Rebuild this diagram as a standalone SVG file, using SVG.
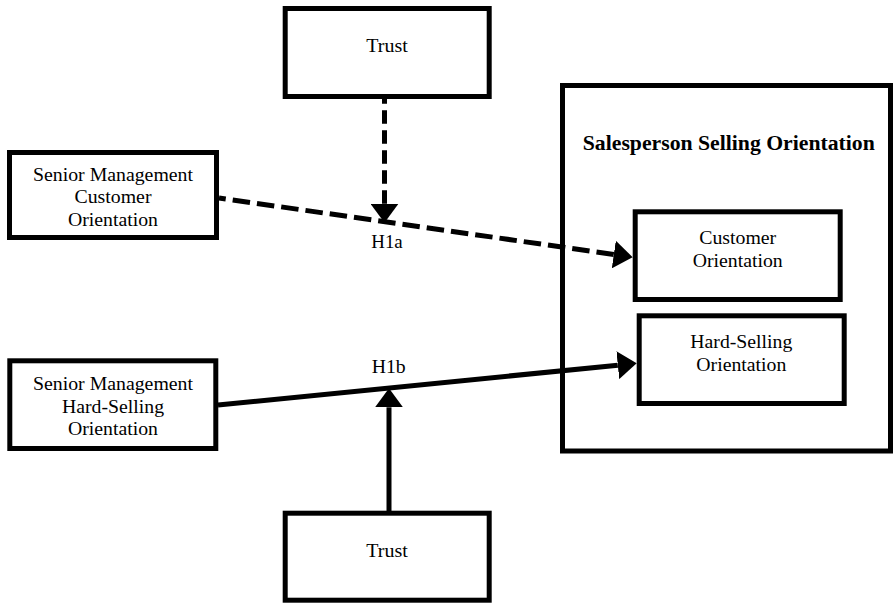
<svg xmlns="http://www.w3.org/2000/svg" width="894" height="603" viewBox="0 0 894 603">
<style>
  .box { fill: #ffffff; stroke: #000000; stroke-width: 5; }
  .frame { fill: none; stroke: #000000; stroke-width: 5; }
  .t { font-family: "Liberation Serif", "Times New Roman", serif; font-size: 18.5px; fill: #000000; text-anchor: middle; }
  .title { font-family: "Liberation Serif", "Times New Roman", serif; font-size: 20px; font-weight: bold; fill: #000000; text-anchor: middle; }
  .conn { fill: none; stroke: #000000; stroke-width: 5; }
  .dashv { stroke-dasharray: 13.5 6.5; }
  .dashd { stroke-dasharray: 17.5 7; }
</style>
<defs>
  <marker id="arrow" markerUnits="userSpaceOnUse" markerWidth="19" markerHeight="28" viewBox="0 0 19 28" refX="0" refY="14" orient="auto-start-reverse">
    <path d="M0,0 L19,14 L0,28 Z" fill="#000000"/>
  </marker>
</defs>
<rect width="894" height="603" fill="#ffffff"/>

<g id="salesperson-orientation">
  <rect class="frame" x="562.5" y="85.5" width="328" height="365.5"/>
  <text class="title" x="728.8" y="150" textLength="292" lengthAdjust="spacingAndGlyphs">Salesperson Selling Orientation</text>
</g>

<g id="connectors">
  <path class="conn dashd" d="M613.8,254.5 L219,198" marker-start="url(#arrow)"/>
  <path class="conn dashv" d="M384.5,203.7 L384.5,99" marker-start="url(#arrow)"/>
  <path class="conn" d="M218,405 L617.8,365.2" marker-end="url(#arrow)"/>
  <path class="conn" d="M389,511 L389,407.3" marker-end="url(#arrow)"/>
</g>

<g id="trust-top">
  <rect class="box" x="285.2" y="8.5" width="204" height="88"/>
  <text class="t" x="387" y="52.3" textLength="41.5" lengthAdjust="spacingAndGlyphs">Trust</text>
</g>

<g id="sm-customer">
  <rect class="box" x="9.5" y="152.5" width="207" height="85"/>
  <text class="t" x="113" y="180.7" textLength="160" lengthAdjust="spacingAndGlyphs">Senior Management</text>
  <text class="t" x="113" y="203.3" textLength="77" lengthAdjust="spacingAndGlyphs">Customer</text>
  <text class="t" x="113" y="226" textLength="90" lengthAdjust="spacingAndGlyphs">Orientation</text>
</g>

<g id="sm-hardselling">
  <rect class="box" x="9.8" y="360.8" width="206" height="87.7"/>
  <text class="t" x="113" y="390" textLength="160" lengthAdjust="spacingAndGlyphs">Senior Management</text>
  <text class="t" x="113" y="413" textLength="102" lengthAdjust="spacingAndGlyphs">Hard-Selling</text>
  <text class="t" x="113" y="435" textLength="90" lengthAdjust="spacingAndGlyphs">Orientation</text>
</g>

<g id="customer-orientation">
  <rect class="box" x="635.2" y="211.8" width="205" height="87.7"/>
  <text class="t" x="737.7" y="244" textLength="77" lengthAdjust="spacingAndGlyphs">Customer</text>
  <text class="t" x="737.7" y="267.3" textLength="90" lengthAdjust="spacingAndGlyphs">Orientation</text>
</g>

<g id="hardselling-orientation">
  <rect class="box" x="639.2" y="315.8" width="205" height="87.7"/>
  <text class="t" x="741.3" y="348.3" textLength="102" lengthAdjust="spacingAndGlyphs">Hard-Selling</text>
  <text class="t" x="741.3" y="371" textLength="90" lengthAdjust="spacingAndGlyphs">Orientation</text>
</g>

<g id="label-h1a">
  <text class="t" x="387" y="247.7" textLength="31.5" lengthAdjust="spacingAndGlyphs">H1a</text>
</g>
<g id="label-h1b">
  <text class="t" x="388.7" y="372.7" textLength="34" lengthAdjust="spacingAndGlyphs">H1b</text>
</g>

<g id="trust-bottom">
  <rect class="box" x="285.2" y="513.2" width="204" height="87"/>
  <text class="t" x="387" y="556.7" textLength="41.5" lengthAdjust="spacingAndGlyphs">Trust</text>
</g>
</svg>
